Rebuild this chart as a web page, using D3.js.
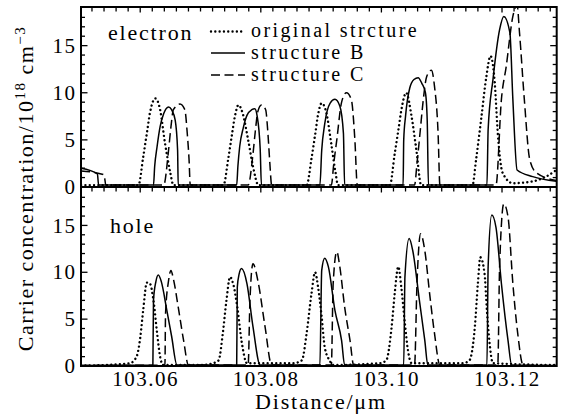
<!DOCTYPE html>
<html><head><meta charset="utf-8">
<script src="https://cdn.jsdelivr.net/npm/d3@7"></script>
<style>body{margin:0;background:#fff}</style>
</head><body><svg id="c" width="565" height="416" font-family="'Liberation Serif', 'DejaVu Serif', serif"></svg>
<script>
// ---------- data (x in µm, y in 10^18 cm^-3) ----------
const xTickLabels = [103.06, 103.08, 103.10, 103.12];
const yTickLabels = [0, 5, 10, 15];
const panelLabels = ["electron", "hole"];
const legendLabels = ["original strcture", "structure B", "structure C"];

const electronOriginal = [
[103.0502,0.2],
[103.0597,0.2],[103.0605,3.2],[103.0611,5.7],[103.0616,7.8],[103.0625,9.4],[103.0633,8.2],[103.0641,4.7],[103.0650,1.5],[103.0655,0.2],
[103.0738,0.2],[103.0746,3.0],[103.0752,5.5],[103.0757,7.5],[103.0763,8.7],[103.0770,7.8],[103.0779,5.0],[103.0787,2.2],[103.0796,0.2],
[103.0876,0.2],[103.0884,3.0],[103.0890,5.5],[103.0895,7.7],[103.0901,8.9],[103.0909,7.8],[103.0917,4.5],[103.0924,1.5],[103.0928,0.2],
[103.1014,0.2],[103.1022,3.5],[103.1028,6.0],[103.1034,8.5],[103.1041,10.0],[103.1050,7.5],[103.1058,3.9],[103.1066,0.2],
[103.1151,0.2],[103.1157,2.9],[103.1166,7.5],[103.1174,11.7],[103.1181,13.9],[103.1188,11.0],[103.1193,5.7],[103.1201,1.5],[103.1218,0.4],[103.1251,0.6],[103.1273,1.1],[103.1290,1.8]
];
const electronB = [
[103.0502,2.0],[103.0529,1.4],[103.0531,0.2],
[103.0622,0.2],[103.0624,2.2],[103.0628,4.3],[103.0633,6.4],[103.0639,7.8],[103.0647,8.5],[103.0652,8.2],[103.0658,7.1],[103.0662,3.9],[103.0663,0.2],
[103.0760,0.2],[103.0762,2.2],[103.0765,4.3],[103.0771,6.3],[103.0777,7.6],[103.0785,8.2],[103.0790,8.3],[103.0794,7.5],[103.0799,4.0],[103.0801,0.2],
[103.0898,0.2],[103.0901,3.9],[103.0906,6.7],[103.0915,8.9],[103.0923,9.3],[103.0931,8.6],[103.0937,5.7],[103.0939,0.2],
[103.1036,0.2],[103.1037,5.0],[103.1040,7.5],[103.1047,10.5],[103.1054,11.4],[103.1061,11.6],[103.1067,11.0],[103.1073,10.0],[103.1076,7.0],[103.1078,0.2],
[103.1175,0.2],[103.1177,6.1],[103.1185,11.4],[103.1196,16.7],[103.1203,18.1],[103.1213,16.4],[103.1218,9.3],[103.1225,1.8],[103.1251,1.1],[103.1290,0.6]
];
const electronC = [
[103.0502,1.7],[103.0540,1.3],[103.0543,0.2],
[103.0639,0.2],[103.0647,3.9],[103.0651,6.4],[103.0655,8.2],[103.0666,8.8],[103.0674,8.2],[103.0678,5.7],[103.0681,2.9],[103.0683,0.2],
[103.0779,0.2],[103.0787,3.5],[103.0791,6.0],[103.0795,8.0],[103.0801,8.7],[103.0808,8.2],[103.0812,5.5],[103.0815,2.5],[103.0818,0.2],
[103.0917,0.2],[103.0921,2.5],[103.0926,5.0],[103.0934,9.0],[103.0942,10.0],[103.0950,9.3],[103.0956,5.0],[103.0960,0.2],
[103.1055,0.2],[103.1059,2.5],[103.1064,5.7],[103.1069,9.0],[103.1075,11.7],[103.1083,12.4],[103.1088,10.7],[103.1094,5.7],[103.1097,0.2],
[103.1190,0.2],[103.1199,9.3],[103.1207,12.8],[103.1218,18.1],[103.1225,19.3],[103.1229,16.4],[103.1237,9.3],[103.1246,2.9],[103.1257,1.5],[103.1290,0.7]
];
const holeOriginal = [
[103.0502,0.05],[103.0540,0.1],
[103.0583,0.3],[103.0594,1.0],[103.0600,3.0],[103.0605,6.0],[103.0611,8.9],[103.0616,8.8],[103.0622,7.0],[103.0628,3.5],[103.0633,1.0],[103.0638,0.1],
[103.0700,0.1],[103.0721,0.3],[103.0730,0.6],[103.0737,3.5],[103.0743,7.0],[103.0749,9.5],[103.0754,8.8],[103.0761,6.3],[103.0768,2.7],[103.0777,0.3],
[103.0854,0.3],[103.0868,0.6],[103.0876,3.5],[103.0884,7.7],[103.0890,10.0],[103.0895,8.4],[103.0901,5.2],[103.0906,2.0],[103.0914,0.6],[103.0920,0.1],
[103.0997,0.3],[103.1008,0.6],[103.1017,4.2],[103.1022,7.7],[103.1028,10.6],[103.1033,8.4],[103.1039,4.5],[103.1044,1.7],[103.1050,0.3],
[103.1135,0.3],[103.1146,0.6],[103.1155,4.2],[103.1160,8.8],[103.1164,11.6],[103.1171,9.9],[103.1175,5.9],[103.1179,2.7],[103.1185,0.3],
[103.1290,0.1]
];
const holeB = [
[103.0502,0.05],
[103.0621,0.1],[103.0622,7.0],[103.0626,9.0],[103.0630,9.7],[103.0635,9.0],[103.0644,6.0],[103.0652,3.2],[103.0661,0.1],
[103.0760,0.1],[103.0761,8.4],[103.0764,9.8],[103.0768,10.4],[103.0777,8.8],[103.0787,4.2],[103.0799,0.1],
[103.0898,0.1],[103.0901,10.2],[103.0906,11.5],[103.0912,10.6],[103.0923,5.9],[103.0934,2.7],[103.0939,0.1],
[103.1037,0.1],[103.1039,9.5],[103.1046,13.6],[103.1052,12.3],[103.1063,7.0],[103.1072,2.7],[103.1077,0.1],
[103.1175,0.1],[103.1177,10.6],[103.1183,16.1],[103.1190,14.8],[103.1199,8.8],[103.1210,2.7],[103.1216,0.1],
[103.1290,0.05]
];
const holeC = [
[103.0502,0.05],
[103.0641,0.1],[103.0642,5.6],[103.0647,9.1],[103.0651,10.2],[103.0655,9.3],[103.0663,6.3],[103.0672,2.7],[103.0680,0.1],
[103.0779,0.1],[103.0782,7.0],[103.0787,10.9],[103.0796,8.8],[103.0807,4.2],[103.0818,0.1],
[103.0917,0.1],[103.0920,8.8],[103.0926,12.2],[103.0931,10.6],[103.0939,6.3],[103.0948,2.7],[103.0954,0.1],
[103.1055,0.1],[103.1059,8.8],[103.1065,14.1],[103.1072,12.3],[103.1080,7.7],[103.1088,3.5],[103.1097,0.1],
[103.1193,0.1],[103.1196,10.6],[103.1203,17.3],[103.1210,15.9],[103.1218,8.8],[103.1226,3.5],[103.1235,0.1],
[103.1290,0.05]
];

// ---------- layout ----------
const FONT = "'Liberation Serif', 'DejaVu Serif', serif";
const L = 81, R = 556.7, T = 7, M = 187, B = 366;
const svg = d3.select("#c");
const x = d3.scaleLinear().domain([103.05018, 103.12907]).range([L, R]);
const yTop = d3.scaleLinear().domain([0, 19.1]).range([M, T]);
const yBot = d3.scaleLinear().domain([0, 19.1]).range([B, M]);

const styles = [
  {dash: "0.01,4.3", width: 2.4, cap: "round"},
  {dash: null, width: 1.5, cap: "butt"},
  {dash: "9,4.5", width: 1.5, cap: "butt"}
];

const defs = svg.append("defs");
defs.append("clipPath").attr("id", "clipTop").append("rect")
  .attr("x", L).attr("y", T).attr("width", R - L).attr("height", M - T);
defs.append("clipPath").attr("id", "clipBot").append("rect")
  .attr("x", L).attr("y", M).attr("width", R - L).attr("height", B - M);

function drawPanel(series, ys, clipId) {
  const g = svg.append("g").attr("clip-path", `url(#${clipId})`);
  const line = d3.line().x(d => x(d[0])).y(d => ys(d[1])).curve(d3.curveMonotoneX);
  series.forEach((s, i) => {
    g.append("path").attr("d", line(s)).attr("fill", "none").attr("stroke", "#000")
      .attr("stroke-width", styles[i].width).attr("stroke-linecap", styles[i].cap)
      .attr("stroke-linejoin", "round")
      .attr("stroke-dasharray", styles[i].dash);
  });
}
drawPanel([electronOriginal, electronB, electronC], yTop, "clipTop");
drawPanel([holeOriginal, holeB, holeC], yBot, "clipBot");

// ---------- ticks ----------
const tickG = svg.append("g").attr("stroke", "#000").attr("stroke-width", 1.3);
const xMinor = d3.range(0, 40).map(i => 103.052 + i * 0.002).filter(v => v < 103.129);
const isMajorX = v => xTickLabels.some(t => Math.abs(t - v) < 1e-6);
[T, M].forEach(yy => {
  xMinor.forEach(v => {
    const len = isMajorX(v) ? 5.5 : 4.5;
    tickG.append("line").attr("x1", x(v)).attr("x2", x(v)).attr("y1", yy).attr("y2", yy + len);
  });
});
const yMinor = d3.range(1, 19);
[yTop, yBot].forEach(ys => {
  yMinor.forEach(v => {
    const len = yTickLabels.includes(v) ? 6.5 : 4;
    tickG.append("line").attr("x1", L).attr("x2", L + len).attr("y1", ys(v)).attr("y2", ys(v));
    tickG.append("line").attr("x1", R).attr("x2", R - len).attr("y1", ys(v)).attr("y2", ys(v));
  });
});

// ---------- frame ----------
svg.append("rect").attr("x", L).attr("y", T).attr("width", R - L).attr("height", B - T)
  .attr("fill", "none").attr("stroke", "#000").attr("stroke-width", 2);
svg.append("line").attr("x1", L).attr("x2", R).attr("y1", M).attr("y2", M)
  .attr("stroke", "#000").attr("stroke-width", 2);

// ---------- text helper ----------
function txt(sel) {
  return sel.attr("font-family", FONT).attr("fill", "#000");
}

// ---------- tick labels ----------
txt(svg.append("g").selectAll("text").data(xTickLabels).join("text"))
  .attr("x", d => x(d) + 5.3).attr("y", 386).attr("text-anchor", "middle")
  .attr("font-size", 21).attr("letter-spacing", 1.5).text(d => d3.format(".2f")(d));
[yTop, yBot].forEach(ys => {
  txt(svg.append("g").selectAll("text").data(yTickLabels).join("text"))
    .attr("x", 76.5).attr("y", d => ys(d)).attr("dy", "0.34em").attr("text-anchor", "end")
    .attr("font-size", 21).attr("letter-spacing", 1.5).text(d => d);
});

// ---------- panel labels ----------
txt(svg.append("text")).attr("x", 108).attr("y", 40).attr("font-size", 22)
  .attr("letter-spacing", 1.8).text(panelLabels[0]);
txt(svg.append("text")).attr("x", 110).attr("y", 233).attr("font-size", 22)
  .attr("letter-spacing", 1.8).text(panelLabels[1]);

// ---------- legend ----------
const legY = [31.5, 53, 75];
legendLabels.forEach((lab, i) => {
  svg.append("line").attr("x1", 211).attr("x2", 245).attr("y1", legY[i]).attr("y2", legY[i])
    .attr("stroke", "#000").attr("stroke-width", styles[i].width)
    .attr("stroke-linecap", styles[i].cap).attr("stroke-dasharray", styles[i].dash);
  txt(svg.append("text")).attr("x", 251).attr("y", legY[i] + 5.5).attr("font-size", 20)
    .attr("letter-spacing", 2.4).text(lab);
});

// ---------- axis titles ----------
txt(svg.append("text")).attr("x", 321).attr("y", 409).attr("text-anchor", "middle")
  .attr("font-size", 22).attr("letter-spacing", 1.8).text("Distance/μm");
const yl = txt(svg.append("text")).attr("transform", "translate(33,188.5) rotate(-90)")
  .attr("text-anchor", "middle").attr("font-size", 22).attr("letter-spacing", 1.5);
yl.append("tspan").text("Carrier concentration/10");
yl.append("tspan").attr("font-size", 15).attr("dy", -8).text("18");
yl.append("tspan").attr("dy", 8).text(" cm");
yl.append("tspan").attr("font-size", 15).attr("dy", -8).text("−3");
</script></body></html>
